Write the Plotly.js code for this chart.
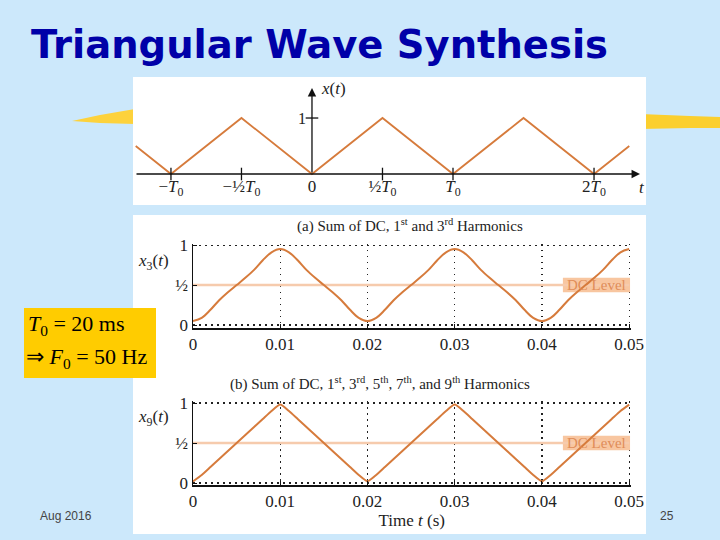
<!DOCTYPE html>
<html><head><meta charset="utf-8">
<script src="https://cdn.plot.ly/plotly-3.0.1.min.js"></script>
<style>body{margin:0;padding:0;}#chart{width:720px;height:540px;}</style>
</head><body><div id="chart"></div>
<script>
// ---- data ----
// ideal triangular wave x(t), t in units of T0
const triT = [-1.25, -1, -0.5, 0, 0.5, 1, 1.5, 2, 2.25];
const triX = [0.5, 0, 1, 0, 1, 0, 1, 0, 0.5];
const topTickVals = [-1, -0.5, 0, 0.5, 1, 2];
const topTickText = ["\u2212<i>T</i><sub>0</sub>", "\u2212\u00bd<i>T</i><sub>0</sub>", "0", "\u00bd<i>T</i><sub>0</sub>", "<i>T</i><sub>0</sub>", "2<i>T</i><sub>0</sub>"];
const topTickMarks = [-1, -0.5, 0.5, 1, 2];

// sampled time (s)
const tSec = [0,0.001,0.002,0.003,0.004,0.005,0.006,0.007,0.008,0.009,0.010,0.011,0.012,0.013,0.014,0.015,0.016,0.017,0.018,0.019,0.020,
  0.021,0.022,0.023,0.024,0.025,0.026,0.027,0.028,0.029,0.030,0.031,0.032,0.033,0.034,0.035,0.036,0.037,0.038,0.039,0.040,
  0.041,0.042,0.043,0.044,0.045,0.046,0.047,0.048,0.049,0.050];
// (a) sum of DC, 1st and 3rd harmonics
const x3 = [0.05,0.09,0.19,0.31,0.41,0.50,0.59,0.69,0.81,0.91,0.95,0.91,0.81,0.69,0.59,0.50,0.41,0.31,0.19,0.09,0.05,
  0.09,0.19,0.31,0.41,0.50,0.59,0.69,0.81,0.91,0.95,0.91,0.81,0.69,0.59,0.50,0.41,0.31,0.19,0.09,0.05,
  0.09,0.19,0.31,0.41,0.50,0.59,0.69,0.81,0.91,0.95];
// (b) sum of DC, 1st..9th harmonics
const x9 = [0.02,0.10,0.20,0.30,0.40,0.50,0.60,0.70,0.80,0.90,0.98,0.90,0.80,0.70,0.60,0.50,0.40,0.30,0.20,0.10,0.02,
  0.10,0.20,0.30,0.40,0.50,0.60,0.70,0.80,0.90,0.98,0.90,0.80,0.70,0.60,0.50,0.40,0.30,0.20,0.10,0.02,
  0.10,0.20,0.30,0.40,0.50,0.60,0.70,0.80,0.90,0.98];
const dcT = [0, 0.05];
const dcLevel = [0.5, 0.5];
const xTickVals = [0, 0.01, 0.02, 0.03, 0.04, 0.05];
const xTickText = ["0", "0.01", "0.02", "0.03", "0.04", "0.05"];
const yTickVals = [0, 0.5, 1];
const yTickText = ["0", "\u00bd", "1"];

// ---- helpers (pixel -> paper) ----
const W = 720, H = 540;
const px = v => v / W;
const py = v => 1 - v / H;

const curveColor = '#d67b3c';
const dcColor = '#f6cbad';
const serif = 'Liberation Serif, Times New Roman, serif';
const dotDash = '1.5px,4.5px';

const traces = [
  {x: triT, y: triX, xaxis: 'x', yaxis: 'y', mode: 'lines', line: {color: curveColor, width: 1.8}, hoverinfo: 'skip'},
  {x: topTickMarks, y: topTickMarks.map(() => 0), xaxis: 'x', yaxis: 'y', mode: 'markers',
   marker: {symbol: 'line-ns', size: 9, line: {color: '#111', width: 1.3}}, hoverinfo: 'skip'},
  {x: [0], y: [1], xaxis: 'x', yaxis: 'y', mode: 'markers',
   marker: {symbol: 'line-ew', size: 9, line: {color: '#111', width: 1.3}}, hoverinfo: 'skip'},
  {x: dcT, y: dcLevel, xaxis: 'x2', yaxis: 'y2', mode: 'lines', line: {color: dcColor, width: 2.5}, hoverinfo: 'skip'},
  {x: tSec, y: x3, xaxis: 'x2', yaxis: 'y2', mode: 'lines', line: {color: curveColor, width: 2, shape: 'spline', smoothing: 1}, hoverinfo: 'skip'},
  {x: dcT, y: dcLevel, xaxis: 'x3', yaxis: 'y3', mode: 'lines', line: {color: dcColor, width: 2.5}, hoverinfo: 'skip'},
  {x: tSec, y: x9, xaxis: 'x3', yaxis: 'y3', mode: 'lines', line: {color: curveColor, width: 2, shape: 'spline', smoothing: 0.5}, hoverinfo: 'skip'}
];

const gridAxisX = (dom, anchor) => ({
  domain: dom, anchor: anchor, range: [0, 0.05015], tickvals: xTickVals, ticktext: xTickText,
  showgrid: true, gridcolor: '#222', griddash: dotDash, gridwidth: 1.2,
  showline: true, linecolor: '#111', linewidth: 2, ticks: 'inside', ticklen: 4, tickcolor: '#111',
  zeroline: false, automargin: false, tickfont: {family: serif, size: 17, color: '#222'}, fixedrange: true
});
const gridAxisY = (dom, anchor, rng) => ({
  domain: dom, anchor: anchor, range: rng, tickvals: yTickVals, ticktext: yTickText,
  showgrid: true, gridcolor: '#222', griddash: dotDash, gridwidth: 1.2,
  showline: true, linecolor: '#111', linewidth: 1.5, ticks: 'inside', ticklen: 4, tickcolor: '#111',
  zeroline: false, automargin: false, tickfont: {family: serif, size: 17, color: '#222'}, fixedrange: true
});

const ann = (x, y, text, opts) => Object.assign({xref: 'paper', yref: 'paper', x: px(x), y: py(y), text: text,
  showarrow: false, xanchor: 'center', yanchor: 'middle', font: {family: serif, size: 15, color: '#222'}}, opts || {});

const layout = {
  width: W, height: H, autosize: false,
  margin: {l: 0, r: 0, t: 0, b: 0, pad: 0},
  paper_bgcolor: '#cce8fb', plot_bgcolor: 'rgba(0,0,0,0)',
  showlegend: false,
  title: {text: '<b>Triangular Wave Synthesis</b>', x: px(31), xanchor: 'left', xref: 'paper',
          y: py(45), yanchor: 'middle', yref: 'paper', automargin: false,
          font: {family: 'DejaVu Sans, Liberation Sans, Arial, sans-serif', size: 38.5, color: '#0000a8'}},
  xaxis: {domain: [px(135), px(640)], range: [-1.255, 2.326], anchor: 'free', position: py(174),
          tickvals: topTickVals, ticktext: topTickText, ticks: '', showgrid: false, zeroline: false, showline: false,
          automargin: false, tickfont: {family: serif, size: 17, color: '#222'}, fixedrange: true},
  yaxis: {domain: [py(200), py(88)], range: [-0.464, 1.536], anchor: 'free', position: px(312),
          tickvals: [1], ticktext: ['1'], ticks: '', ticklabelstandoff: 6, showgrid: false, zeroline: false, showline: false,
          automargin: false, tickfont: {family: serif, size: 16, color: '#222'}, fixedrange: true},
  xaxis2: gridAxisX([px(193), px(630.5)], 'y2'),
  yaxis2: gridAxisY([py(328), py(243.5)], 'x2', [-0.0375, 1.02]),
  xaxis3: Object.assign(gridAxisX([px(193), px(630.5)], 'y3'),
          {title: {text: 'Time <i>t</i> (s)', standoff: 4, font: {family: serif, size: 17, color: '#222'}}}),
  yaxis3: gridAxisY([py(485), py(401.4)], 'x3', [-0.025, 1.02]),
  shapes: [
    // yellow brush strokes behind the top figure
    {type: 'path', xref: 'paper', yref: 'paper', layer: 'below', line: {width: 0}, fillcolor: '#fdd23c',
     path: `M ${px(72)} ${py(121)} L ${px(100)} ${py(115)} L ${px(135)} ${py(109)} L ${px(135)} ${py(124)} L ${px(100)} ${py(123)} Z`},
    {type: 'path', xref: 'paper', yref: 'paper', layer: 'below', line: {width: 0}, fillcolor: '#fbcf2e',
     path: `M ${px(640)} ${py(114)} L ${px(690)} ${py(116)} L ${px(720)} ${py(117)} L ${px(720)} ${py(128)} L ${px(690)} ${py(128)} L ${px(640)} ${py(129)} Z`},
    // white figure panels
    {type: 'rect', xref: 'paper', yref: 'paper', layer: 'below', line: {width: 0}, fillcolor: '#ffffff',
     x0: px(133), x1: px(646), y0: py(205), y1: py(77)},
    {type: 'rect', xref: 'paper', yref: 'paper', layer: 'below', line: {width: 0}, fillcolor: '#ffffff',
     x0: px(133), x1: px(646), y0: py(534), y1: py(215)},
    // yellow parameter box
    {type: 'rect', xref: 'paper', yref: 'paper', layer: 'below', line: {width: 0}, fillcolor: '#ffcc00',
     x0: px(24), x1: px(156), y0: py(378), y1: py(308)},
    // DC level label boxes
    {type: 'rect', xref: 'x2', yref: 'y2', layer: 'between', line: {width: 0}, fillcolor: '#f8c6a0',
     x0: 0.0424, x1: 0.0501, y0: 0.41, y1: 0.59},
    {type: 'rect', xref: 'x3', yref: 'y3', layer: 'between', line: {width: 0}, fillcolor: '#f8c6a0',
     x0: 0.0424, x1: 0.0501, y0: 0.41, y1: 0.59}
  ],
  annotations: [
    // axis arrows of the top figure
    {xref: 'x', yref: 'y', axref: 'x', ayref: 'y', x: 2.326, y: 0, ax: -1.255, ay: 0, text: '',
     showarrow: true, arrowhead: 2, arrowsize: 1.3, arrowwidth: 1.3, arrowcolor: '#111'},
    {xref: 'x', yref: 'y', axref: 'x', ayref: 'y', x: 0, y: 1.536, ax: 0, ay: 0, text: '',
     showarrow: true, arrowhead: 2, arrowsize: 1.3, arrowwidth: 1.3, arrowcolor: '#111'},
    ann(319, 88, '<i>x</i>(<i>t</i>)', {xanchor: 'left', font: {family: serif, size: 17, color: '#222'}}),
    ann(642, 187, '<i>t</i>', {font: {family: serif, size: 17, color: '#222'}}),
    // subplot titles
    ann(410, 225, '(a) Sum of DC, 1<sup>st</sup> and 3<sup>rd</sup> Harmonics'),
    ann(380, 383, '(b) Sum of DC, 1<sup>st</sup>, 3<sup>rd</sup>, 5<sup>th</sup>, 7<sup>th</sup>, and 9<sup>th</sup> Harmonics'),
    ann(136, 262, '<i>x</i><sub>3</sub>(<i>t</i>)', {xanchor: 'left', font: {family: serif, size: 17, color: '#222'}}),
    ann(136, 418, '<i>x</i><sub>9</sub>(<i>t</i>)', {xanchor: 'left', font: {family: serif, size: 17, color: '#222'}}),
    {xref: 'x2', yref: 'y2', x: 0.04625, y: 0.5, xanchor: 'center', yanchor: 'middle', text: 'DC Level', showarrow: false,
     font: {family: serif, size: 15, color: '#e08d58'}},
    {xref: 'x3', yref: 'y3', x: 0.04625, y: 0.5, xanchor: 'center', yanchor: 'middle', text: 'DC Level', showarrow: false,
     font: {family: serif, size: 15, color: '#e08d58'}},
    // parameter box text
    ann(26, 325, '<i>T</i><sub>0</sub> = 20 ms', {xanchor: 'left', font: {family: serif, size: 22, color: '#000'}}),
    ann(24, 358, '\u21d2 <i>F</i><sub>0</sub> = 50 Hz', {xanchor: 'left', font: {family: serif, size: 22, color: '#000'}}),
    // footer
    ann(66, 516, 'Aug 2016', {font: {family: 'Liberation Sans, Arial, sans-serif', size: 12, color: '#444'}}),
    ann(667, 516, '25', {font: {family: 'Liberation Sans, Arial, sans-serif', size: 12, color: '#444'}})
  ]
};

Plotly.newPlot('chart', traces, layout, {displayModeBar: false, staticPlot: true});
</script>
</body></html>
